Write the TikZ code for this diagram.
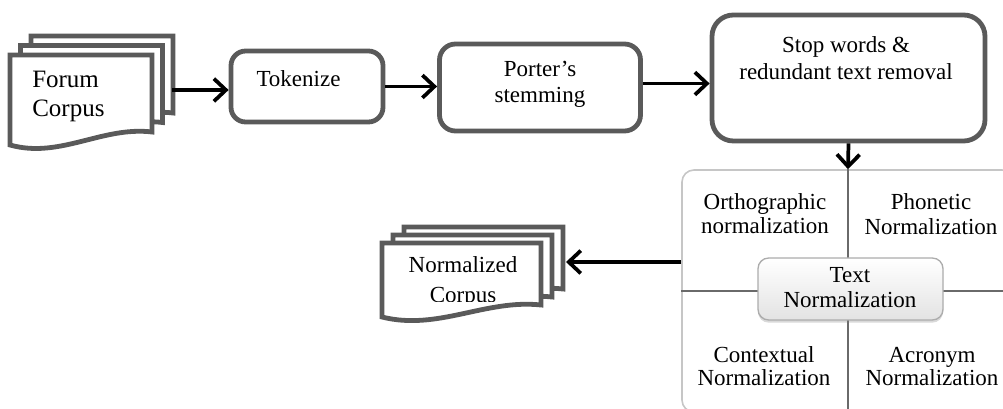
\documentclass[tikz,border=0pt]{standalone}
\usepackage{fontspec}
\setmainfont{Liberation Serif}
\usetikzlibrary{arrows.meta,shadows}
\definecolor{boxgray}{HTML}{5A5A5A}
\definecolor{crossgray}{HTML}{6A6A6A}
\newcommand\docpage[5]{%
  \draw[page] (#1,#2) -- ({#1+#3},#2) -- ({#1+#3},{#2+#4})
    .. controls ({#1+0.65*#3},{#2+#4-6}) and ({#1+0.35*#3},{#2+#4+#5+14}) ..
    (#1,{#2+#4+#5}) -- cycle;}
\begin{document}
\begin{tikzpicture}[x=0.75pt,y=-0.75pt,
  stepbox/.style={draw=boxgray, line width=3.6pt, rounded corners=11pt, fill=white, inner sep=0pt},
  lbl/.style={anchor=base, inner sep=0pt, font=\fontsize{17.25}{20}\selectfont},
  big/.style={anchor=base west, inner sep=0pt, font=\fontsize{18.75}{22}\selectfont},
  flow/.style={draw=black, line width=2.8pt, -{Straight Barb[length=9pt,width=17pt]}},
  page/.style={draw=boxgray, line width=3.6pt, fill=white, line join=miter},
  crossline/.style={draw=crossgray, line width=1.2pt},
  centerbox/.style={draw=gray!65, line width=1pt, rounded corners=8pt, top color=white, bottom color=gray!22, inner sep=0pt,
    drop shadow={opacity=0.3, shadow xshift=0pt, shadow yshift=-2pt}}]
\clip (0,0) rectangle (1003,409);

% Forum Corpus
\docpage{31}{36}{142}{77}{13}
\docpage{20.5}{45.5}{142}{77}{13}
\docpage{10}{55}{142}{77}{13}
\node[big] (fc1) at (32,88) {Forum};
\node[big] (fc2) at (32,117) {Corpus};
\coordinate (fcout) at (172,90);

% process boxes
\node[stepbox, minimum width=152*0.75pt, minimum height=71*0.75pt] (tok) at (307,86.5) {};
\node[lbl] (tokt) at (298.5,87) {Tokenize};
\node[stepbox, rounded corners=12pt, minimum width=201*0.75pt, minimum height=87*0.75pt] (por) at (540,87.5) {};
\node[lbl] (port1) at (540,77) {Porter’s};
\node[lbl] (port2) at (540,103) {stemming};
\node[stepbox, rounded corners=16pt, minimum width=273*0.75pt, minimum height=126*0.75pt] (stop) at (848.5,78) {};
\node[lbl] (stopt1) at (846,53) {Stop words \&};
\node[lbl] (stopt2) at (846,80) {redundant text removal};

\draw[flow] (fcout) -- (tok.west |- fcout);
\draw[flow] (tok.east) -- (por.west |- tok.east);
\coordinate (pe) at ([yshift=3pt]por.east);
\draw[flow] (pe) -- (stop.west |- pe);

% Normalization region
\node[draw=gray!45, line width=1.2pt, rounded corners=9pt, minimum width=332*0.75pt, minimum height=242*0.75pt, inner sep=0pt] (norm) at (848,291) {};
\draw[flow] (stop.south) -- (norm.north);
\draw[crossline] (norm.north) -- (norm.south);
\draw[crossline] (norm.west) -- (norm.east);
\node[lbl] (or1) at (765,210) {Orthographic};
\node[lbl] (or2) at (765,234) {normalization};
\node[lbl] (ph1) at (931,210) {Phonetic};
\node[lbl] (ph2) at (931,235) {Normalization};
\node[lbl] (co1) at (764,363) {Contextual};
\node[lbl] (co2) at (764,386) {Normalization};
\node[lbl] (ac1) at (932,363) {Acronym};
\node[lbl] (ac2) at (932,386) {Normalization};
\node[centerbox, minimum width=185*0.75pt, minimum height=62*0.75pt] (tn) at (850.5,289) {};
\node[lbl] (tn1) at (850,283) {Text};
\node[lbl] (tn2) at (850,308) {Normalization};

% Normalized Corpus
\docpage{404}{227}{159}{62}{12}
\docpage{393}{235}{159}{62}{12}
\docpage{382}{243}{159}{62}{12}
\node[lbl] (nc1) at (463,273) {Normalized};
\begin{scope}
  \clip (400,280) rectangle (530,301.5);
  \node[lbl] (nc2) at (463,303) {Corpus};
\end{scope}
\coordinate (ncin) at (566,262);
\draw[flow] (norm.west |- ncin) -- (ncin);
\end{tikzpicture}
\end{document}
